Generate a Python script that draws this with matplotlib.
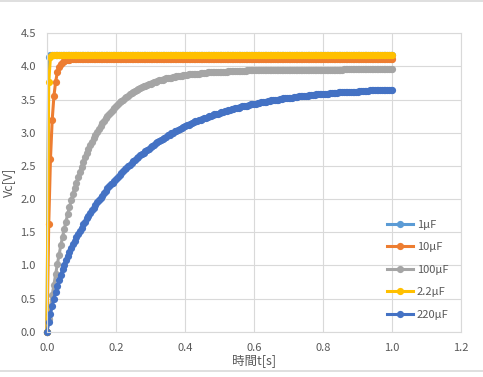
import matplotlib
matplotlib.use("Agg")
import matplotlib.pyplot as plt
from matplotlib.lines import Line2D
from matplotlib.ticker import MultipleLocator, FormatStrFormatter
import numpy as np

# 日本語フォント
plt.rcParams["font.family"] = ["Noto Sans CJK JP", "DejaVu Sans"]

# 測定時刻 (5 ms 刻み, 0〜1.0 s)
t = np.arange(201) * 0.005

labels = ["1µF", "10µF", "100µF", "2.2µF", "220µF"]
colors = ["#5B9BD5", "#ED7D31", "#A5A5A5", "#FFC000", "#4472C4"]

v_1uF = [
    0.00, 4.15, 4.18, 4.18, 4.18, 4.18, 4.18, 4.18, 4.18, 4.18, 4.18, 4.18, 4.18, 4.18, 4.18, 4.18, 4.18, 4.18, 4.18, 4.18,
    4.18, 4.18, 4.18, 4.18, 4.18, 4.18, 4.18, 4.18, 4.18, 4.18, 4.18, 4.18, 4.18, 4.18, 4.18, 4.18, 4.18, 4.18, 4.18, 4.18,
    4.18, 4.18, 4.18, 4.18, 4.18, 4.18, 4.18, 4.18, 4.18, 4.18, 4.18, 4.18, 4.18, 4.18, 4.18, 4.18, 4.18, 4.18, 4.18, 4.18,
    4.18, 4.18, 4.18, 4.18, 4.18, 4.18, 4.18, 4.18, 4.18, 4.18, 4.18, 4.18, 4.18, 4.18, 4.18, 4.18, 4.18, 4.18, 4.18, 4.18,
    4.18, 4.18, 4.18, 4.18, 4.18, 4.18, 4.18, 4.18, 4.18, 4.18, 4.18, 4.18, 4.18, 4.18, 4.18, 4.18, 4.18, 4.18, 4.18, 4.18,
    4.18, 4.18, 4.18, 4.18, 4.18, 4.18, 4.18, 4.18, 4.18, 4.18, 4.18, 4.18, 4.18, 4.18, 4.18, 4.18, 4.18, 4.18, 4.18, 4.18,
    4.18, 4.18, 4.18, 4.18, 4.18, 4.18, 4.18, 4.18, 4.18, 4.18, 4.18, 4.18, 4.18, 4.18, 4.18, 4.18, 4.18, 4.18, 4.18, 4.18,
    4.18, 4.18, 4.18, 4.18, 4.18, 4.18, 4.18, 4.18, 4.18, 4.18, 4.18, 4.18, 4.18, 4.18, 4.18, 4.18, 4.18, 4.18, 4.18, 4.18,
    4.18, 4.18, 4.18, 4.18, 4.18, 4.18, 4.18, 4.18, 4.18, 4.18, 4.18, 4.18, 4.18, 4.18, 4.18, 4.18, 4.18, 4.18, 4.18, 4.18,
    4.18, 4.18, 4.18, 4.18, 4.18, 4.18, 4.18, 4.18, 4.18, 4.18, 4.18, 4.18, 4.18, 4.18, 4.18, 4.18, 4.18, 4.18, 4.18, 4.18,
    4.18,
]

v_10uF = [
    0.00, 1.62, 2.60, 3.19, 3.55, 3.77, 3.91, 3.99, 4.03, 4.06, 4.08, 4.09, 4.10, 4.10, 4.11, 4.11, 4.11, 4.11, 4.11, 4.11,
    4.11, 4.11, 4.11, 4.11, 4.11, 4.11, 4.11, 4.11, 4.11, 4.11, 4.11, 4.11, 4.11, 4.11, 4.11, 4.11, 4.11, 4.11, 4.11, 4.11,
    4.11, 4.11, 4.11, 4.11, 4.11, 4.11, 4.11, 4.11, 4.11, 4.11, 4.11, 4.11, 4.11, 4.11, 4.11, 4.11, 4.11, 4.11, 4.11, 4.11,
    4.11, 4.11, 4.11, 4.11, 4.11, 4.11, 4.11, 4.11, 4.11, 4.11, 4.11, 4.11, 4.11, 4.11, 4.11, 4.11, 4.11, 4.11, 4.11, 4.11,
    4.11, 4.11, 4.11, 4.11, 4.11, 4.11, 4.11, 4.11, 4.11, 4.11, 4.11, 4.11, 4.11, 4.11, 4.11, 4.11, 4.11, 4.11, 4.11, 4.11,
    4.11, 4.11, 4.11, 4.11, 4.11, 4.11, 4.11, 4.11, 4.11, 4.11, 4.11, 4.11, 4.11, 4.11, 4.11, 4.11, 4.11, 4.11, 4.11, 4.11,
    4.11, 4.11, 4.11, 4.11, 4.11, 4.11, 4.11, 4.11, 4.11, 4.11, 4.11, 4.11, 4.11, 4.11, 4.11, 4.11, 4.11, 4.11, 4.11, 4.11,
    4.11, 4.11, 4.11, 4.11, 4.11, 4.11, 4.11, 4.11, 4.11, 4.11, 4.11, 4.11, 4.11, 4.11, 4.11, 4.11, 4.11, 4.11, 4.11, 4.11,
    4.11, 4.11, 4.11, 4.11, 4.11, 4.11, 4.11, 4.11, 4.11, 4.11, 4.11, 4.11, 4.11, 4.11, 4.11, 4.11, 4.11, 4.11, 4.11, 4.11,
    4.11, 4.11, 4.11, 4.11, 4.11, 4.11, 4.11, 4.11, 4.11, 4.11, 4.11, 4.11, 4.11, 4.11, 4.11, 4.11, 4.11, 4.11, 4.11, 4.11,
    4.11,
]

v_100uF = [
    0.00, 0.19, 0.37, 0.55, 0.71, 0.87, 1.02, 1.16, 1.30, 1.43, 1.55, 1.66, 1.78, 1.88, 1.98, 2.08, 2.17, 2.25, 2.33, 2.41,
    2.49, 2.56, 2.63, 2.69, 2.75, 2.81, 2.86, 2.92, 2.97, 3.01, 3.06, 3.10, 3.14, 3.18, 3.22, 3.25, 3.29, 3.32, 3.35, 3.38,
    3.40, 3.43, 3.46, 3.48, 3.50, 3.52, 3.54, 3.56, 3.58, 3.60, 3.61, 3.63, 3.65, 3.66, 3.67, 3.69, 3.70, 3.71, 3.72, 3.73,
    3.74, 3.75, 3.76, 3.77, 3.78, 3.79, 3.80, 3.80, 3.81, 3.82, 3.82, 3.83, 3.83, 3.84, 3.84, 3.85, 3.85, 3.86, 3.86, 3.87,
    3.87, 3.87, 3.88, 3.88, 3.88, 3.89, 3.89, 3.89, 3.89, 3.90, 3.90, 3.90, 3.90, 3.91, 3.91, 3.91, 3.91, 3.91, 3.92, 3.92,
    3.92, 3.92, 3.92, 3.92, 3.92, 3.93, 3.93, 3.93, 3.93, 3.93, 3.93, 3.93, 3.93, 3.93, 3.93, 3.93, 3.94, 3.94, 3.94, 3.94,
    3.94, 3.94, 3.94, 3.94, 3.94, 3.94, 3.94, 3.94, 3.94, 3.94, 3.94, 3.94, 3.94, 3.94, 3.95, 3.95, 3.95, 3.95, 3.95, 3.95,
    3.95, 3.95, 3.95, 3.95, 3.95, 3.95, 3.95, 3.95, 3.95, 3.95, 3.95, 3.95, 3.95, 3.95, 3.95, 3.95, 3.95, 3.95, 3.95, 3.95,
    3.95, 3.95, 3.95, 3.95, 3.95, 3.95, 3.95, 3.95, 3.95, 3.95, 3.95, 3.95, 3.96, 3.96, 3.96, 3.96, 3.96, 3.96, 3.96, 3.96,
    3.96, 3.96, 3.96, 3.96, 3.96, 3.96, 3.96, 3.96, 3.96, 3.96, 3.96, 3.96, 3.96, 3.96, 3.96, 3.96, 3.96, 3.96, 3.96, 3.96,
    3.96,
]

v_2_2uF = [
    0.00, 3.76, 4.14, 4.17, 4.18, 4.18, 4.18, 4.18, 4.18, 4.18, 4.18, 4.18, 4.18, 4.18, 4.18, 4.18, 4.18, 4.18, 4.18, 4.18,
    4.18, 4.18, 4.18, 4.18, 4.18, 4.18, 4.18, 4.18, 4.18, 4.18, 4.18, 4.18, 4.18, 4.18, 4.18, 4.18, 4.18, 4.18, 4.18, 4.18,
    4.18, 4.18, 4.18, 4.18, 4.18, 4.18, 4.18, 4.18, 4.18, 4.18, 4.18, 4.18, 4.18, 4.18, 4.18, 4.18, 4.18, 4.18, 4.18, 4.18,
    4.18, 4.18, 4.18, 4.18, 4.18, 4.18, 4.18, 4.18, 4.18, 4.18, 4.18, 4.18, 4.18, 4.18, 4.18, 4.18, 4.18, 4.18, 4.18, 4.18,
    4.18, 4.18, 4.18, 4.18, 4.18, 4.18, 4.18, 4.18, 4.18, 4.18, 4.18, 4.18, 4.18, 4.18, 4.18, 4.18, 4.18, 4.18, 4.18, 4.18,
    4.18, 4.18, 4.18, 4.18, 4.18, 4.18, 4.18, 4.18, 4.18, 4.18, 4.18, 4.18, 4.18, 4.18, 4.18, 4.18, 4.18, 4.18, 4.18, 4.18,
    4.18, 4.18, 4.18, 4.18, 4.18, 4.18, 4.18, 4.18, 4.18, 4.18, 4.18, 4.18, 4.18, 4.18, 4.18, 4.18, 4.18, 4.18, 4.18, 4.18,
    4.18, 4.18, 4.18, 4.18, 4.18, 4.18, 4.18, 4.18, 4.18, 4.18, 4.18, 4.18, 4.18, 4.18, 4.18, 4.18, 4.18, 4.18, 4.18, 4.18,
    4.18, 4.18, 4.18, 4.18, 4.18, 4.18, 4.18, 4.18, 4.18, 4.18, 4.18, 4.18, 4.18, 4.18, 4.18, 4.18, 4.18, 4.18, 4.18, 4.18,
    4.18, 4.18, 4.18, 4.18, 4.18, 4.18, 4.18, 4.18, 4.18, 4.18, 4.18, 4.18, 4.18, 4.18, 4.18, 4.18, 4.18, 4.18, 4.18, 4.18,
    4.18,
]

v_220uF = [
    0.00, 0.14, 0.27, 0.39, 0.50, 0.60, 0.69, 0.78, 0.86, 0.94, 1.01, 1.08, 1.14, 1.20, 1.26, 1.32, 1.37, 1.43, 1.48, 1.52,
    1.57, 1.62, 1.66, 1.71, 1.75, 1.79, 1.83, 1.87, 1.91, 1.95, 1.98, 2.02, 2.05, 2.09, 2.12, 2.16, 2.19, 2.22, 2.25, 2.28,
    2.31, 2.34, 2.37, 2.39, 2.42, 2.45, 2.47, 2.50, 2.52, 2.55, 2.57, 2.59, 2.62, 2.64, 2.66, 2.68, 2.70, 2.72, 2.74, 2.76,
    2.78, 2.80, 2.82, 2.84, 2.86, 2.87, 2.89, 2.91, 2.92, 2.94, 2.96, 2.97, 2.99, 3.00, 3.02, 3.03, 3.04, 3.06, 3.07, 3.08,
    3.10, 3.11, 3.12, 3.13, 3.14, 3.16, 3.17, 3.18, 3.19, 3.20, 3.21, 3.22, 3.23, 3.24, 3.25, 3.26, 3.27, 3.28, 3.28, 3.29,
    3.30, 3.31, 3.32, 3.33, 3.33, 3.34, 3.35, 3.36, 3.36, 3.37, 3.38, 3.38, 3.39, 3.40, 3.40, 3.41, 3.41, 3.42, 3.43, 3.43,
    3.44, 3.44, 3.45, 3.45, 3.46, 3.46, 3.47, 3.47, 3.48, 3.48, 3.49, 3.49, 3.50, 3.50, 3.50, 3.51, 3.51, 3.52, 3.52, 3.52,
    3.53, 3.53, 3.53, 3.54, 3.54, 3.54, 3.55, 3.55, 3.55, 3.56, 3.56, 3.56, 3.57, 3.57, 3.57, 3.57, 3.58, 3.58, 3.58, 3.58,
    3.59, 3.59, 3.59, 3.59, 3.60, 3.60, 3.60, 3.60, 3.60, 3.61, 3.61, 3.61, 3.61, 3.61, 3.61, 3.62, 3.62, 3.62, 3.62, 3.62,
    3.62, 3.63, 3.63, 3.63, 3.63, 3.63, 3.63, 3.64, 3.64, 3.64, 3.64, 3.64, 3.64, 3.64, 3.64, 3.64, 3.65, 3.65, 3.65, 3.65,
    3.65,
]

series = [v_1uF, v_10uF, v_100uF, v_2_2uF, v_220uF]

TEXT = "#595959"
GRID = "#D9D9D9"

fig = plt.figure(figsize=(4.83, 3.77), dpi=100)
ax = fig.add_axes([47 / 483, 1 - 331.7 / 377, 414.3 / 483, 298.4 / 377])

for v, lab, c in zip(series, labels, colors):
    ax.plot(t[:len(v)], v, color=c, lw=2.2, marker="o", ms=5.2, mew=0,
            label=lab, clip_on=False)

ax.set_xlim(0, 1.2)
ax.set_ylim(0, 4.5)
ax.xaxis.set_major_locator(MultipleLocator(0.2))
ax.yaxis.set_major_locator(MultipleLocator(0.5))
ax.xaxis.set_major_formatter(FormatStrFormatter("%.1f"))
ax.yaxis.set_major_formatter(FormatStrFormatter("%.1f"))
ax.grid(True, color=GRID, lw=0.8)
ax.set_axisbelow(True)
for sp in ax.spines.values():
    sp.set_color(GRID)
    sp.set_linewidth(0.8)
ax.tick_params(length=0, labelsize=8, labelcolor=TEXT, pad=8)

ax.set_xlabel("時間t[s]", fontsize=9, color=TEXT, labelpad=1)
ax.set_ylabel("Vc[V]", fontsize=9, color=TEXT, labelpad=4)

ax.legend(loc="upper left", bbox_to_anchor=(0.82, 0.375), frameon=False,
          fontsize=8, labelcolor=TEXT, handlelength=2.4, handletextpad=0.3,
          labelspacing=1.12, borderpad=0, borderaxespad=0)

# グラフエリアの枠線（上下）
fig.add_artist(Line2D([0, 1], [1 - 0.5 / 377, 1 - 0.5 / 377], color=GRID, lw=1.2))
fig.add_artist(Line2D([0, 1], [6 / 377, 6 / 377], color=GRID, lw=1.2))

fig.savefig("out.png", dpi=100)
